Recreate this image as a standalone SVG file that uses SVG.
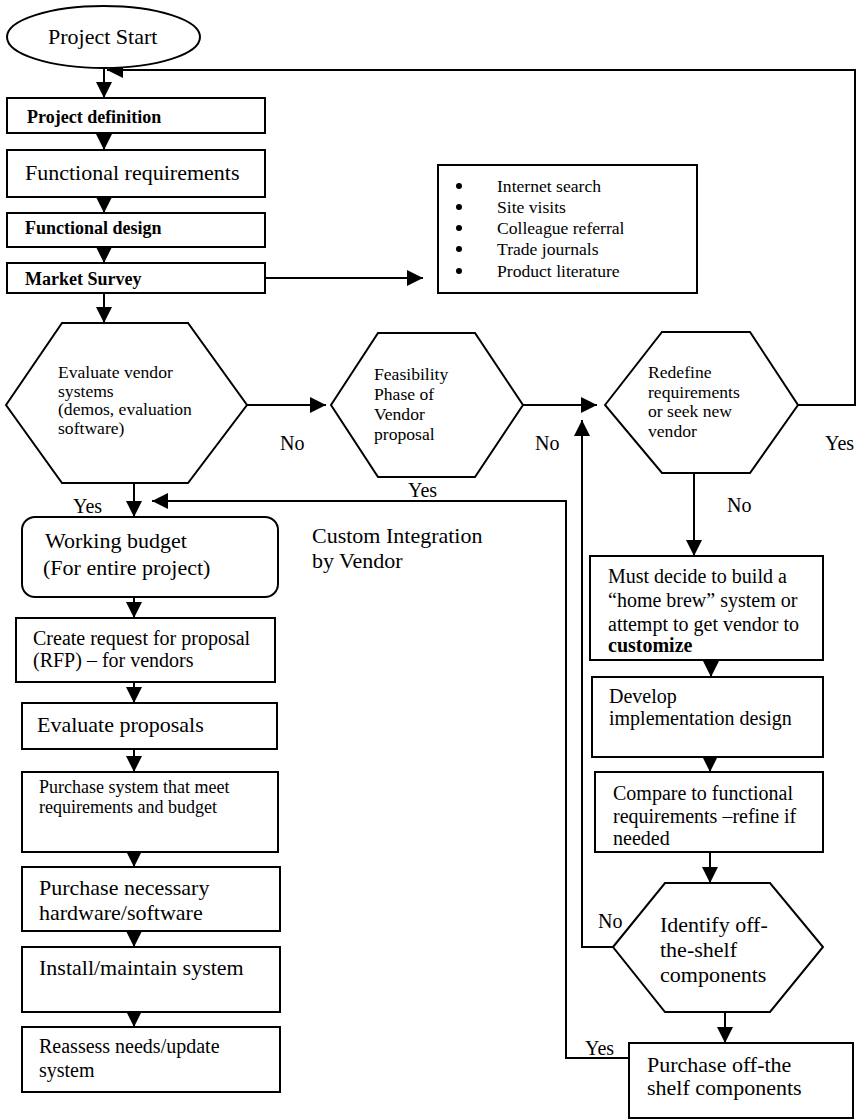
<svg xmlns="http://www.w3.org/2000/svg" width="863" height="1120" viewBox="0 0 863 1120">
<defs>
<style>
text{font-family:"Liberation Serif","Times New Roman",serif;fill:#000}
.n{fill:#fff;stroke:#000;stroke-width:2}
.c{fill:none;stroke:#000;stroke-width:2}
.b{font-weight:bold;font-size:18px}
.t22{font-size:22px}
.t20{font-size:20px}
.t18{font-size:18px}
.t17{font-size:17.6px}
.lbl{font-size:20px}
</style>
<marker id="ah" viewBox="0 0 16 16" refX="16" refY="8" markerWidth="16" markerHeight="16" markerUnits="userSpaceOnUse" orient="auto">
<path d="M0,0 L16,8 L0,16 z" fill="#000"/>
</marker>
</defs>
<rect width="863" height="1120" fill="#fff"/>

<g id="connectors">
<polyline class="c" points="798,405 855,405 855,70 107,70" marker-end="url(#ah)"/>
<line class="c" x1="104" y1="68" x2="104" y2="98" marker-end="url(#ah)"/>
<line class="c" x1="104" y1="133" x2="104" y2="150" marker-end="url(#ah)"/>
<line class="c" x1="104" y1="197" x2="104" y2="213" marker-end="url(#ah)"/>
<line class="c" x1="104" y1="247" x2="104" y2="263" marker-end="url(#ah)"/>
<line class="c" x1="104" y1="293" x2="104" y2="323" marker-end="url(#ah)"/>
<line class="c" x1="265" y1="278" x2="423" y2="278" marker-end="url(#ah)"/>
<line class="c" x1="247" y1="405" x2="326" y2="405" marker-end="url(#ah)"/>
<line class="c" x1="523" y1="405" x2="597" y2="405" marker-end="url(#ah)"/>
<line class="c" x1="134" y1="483" x2="134" y2="517" marker-end="url(#ah)"/>
<polyline class="c" points="629,1058 566,1058 566,501 152,501" marker-end="url(#ah)"/>
<polyline class="c" points="613,947 582,947 582,420" marker-end="url(#ah)"/>
<line class="c" x1="694" y1="473" x2="694" y2="556" marker-end="url(#ah)"/>
<line class="c" x1="134" y1="597" x2="134" y2="618" marker-end="url(#ah)"/>
<line class="c" x1="134" y1="682" x2="134" y2="703" marker-end="url(#ah)"/>
<line class="c" x1="134" y1="749" x2="134" y2="772" marker-end="url(#ah)"/>
<line class="c" x1="134" y1="852" x2="134" y2="867" marker-end="url(#ah)"/>
<line class="c" x1="134" y1="931" x2="134" y2="947" marker-end="url(#ah)"/>
<line class="c" x1="134" y1="1012" x2="134" y2="1027" marker-end="url(#ah)"/>
<line class="c" x1="711" y1="660" x2="711" y2="677" marker-end="url(#ah)"/>
<line class="c" x1="710" y1="757" x2="710" y2="772" marker-end="url(#ah)"/>
<line class="c" x1="710" y1="852" x2="710" y2="883" marker-end="url(#ah)"/>
<line class="c" x1="725" y1="1012" x2="725" y2="1043" marker-end="url(#ah)"/>
</g>

<g id="labels">
<text class="lbl" x="280" y="450">No</text>
<text class="lbl" x="535" y="450">No</text>
<text class="lbl" x="825" y="450">Yes</text>
<text class="lbl" x="73" y="513">Yes</text>
<text class="lbl" x="408" y="497">Yes</text>
<text class="lbl" x="727" y="512">No</text>
<text class="lbl" x="598" y="928">No</text>
<text class="lbl" x="585" y="1055">Yes</text>
<text class="t22" x="312" y="543">Custom Integration</text>
<text class="t22" x="312" y="568">by Vendor</text>
</g>

<g id="start">
<ellipse class="n" cx="103.5" cy="37" rx="96.5" ry="31"/>
<text class="t22" x="48" y="44">Project Start</text>
</g>
<g id="project-definition">
<rect class="n" x="7" y="98" width="258" height="35"/>
<text class="b" x="27" y="123">Project definition</text>
</g>
<g id="functional-requirements">
<rect class="n" x="7" y="150" width="258" height="47"/>
<text class="t22" x="25" y="180">Functional requirements</text>
</g>
<g id="functional-design">
<rect class="n" x="7" y="213" width="258" height="34"/>
<text class="b" x="25" y="234">Functional design</text>
</g>
<g id="market-survey">
<rect class="n" x="7" y="263" width="258" height="30"/>
<text class="b" x="25" y="285">Market Survey</text>
</g>
<g id="survey-methods">
<rect class="n" x="438" y="165" width="259" height="128"/>
<circle cx="459" cy="186" r="3"/>
<circle cx="459" cy="207" r="3"/>
<circle cx="459" cy="228" r="3"/>
<circle cx="459" cy="249" r="3"/>
<circle cx="459" cy="271" r="3"/>
<text class="t17" x="497" y="192">Internet search</text>
<text class="t17" x="497" y="213">Site visits</text>
<text class="t17" x="497" y="234">Colleague referral</text>
<text class="t17" x="497" y="255">Trade journals</text>
<text class="t17" x="497" y="277">Product literature</text>
</g>
<g id="evaluate-vendor">
<polygon class="n" points="6,405 62,323 188,323 247,405 188,483 62,483"/>
<text class="t17" x="58" y="378">Evaluate vendor</text>
<text class="t17" x="58" y="396.5">systems</text>
<text class="t17" x="58" y="415">(demos, evaluation</text>
<text class="t17" x="58" y="433.5">software)</text>
</g>
<g id="feasibility">
<polygon class="n" points="331,405 378,333 475,333 523,405 475,477 378,477"/>
<text class="t17" x="374" y="380">Feasibility</text>
<text class="t17" x="374" y="400">Phase of</text>
<text class="t17" x="374" y="420">Vendor</text>
<text class="t17" x="374" y="440">proposal</text>
</g>
<g id="redefine">
<polygon class="n" points="605,405 662,332 750,332 798,405 750,473 662,473"/>
<text class="t17" x="648" y="378">Redefine</text>
<text class="t17" x="648" y="397.5">requirements</text>
<text class="t17" x="648" y="417">or seek new</text>
<text class="t17" x="648" y="436.5">vendor</text>
</g>
<g id="working-budget">
<rect class="n" x="22" y="517" width="256" height="80" rx="13"/>
<text class="t22" x="45" y="548">Working budget</text>
<text class="t22" x="43" y="575">(For entire project)</text>
</g>
<g id="create-rfp">
<rect class="n" x="16" y="618" width="259" height="64"/>
<text class="t20" x="33" y="645">Create request for proposal</text>
<text class="t20" x="33" y="667">(RFP) – for vendors</text>
</g>
<g id="evaluate-proposals">
<rect class="n" x="22" y="703" width="255" height="46"/>
<text class="t22" x="37" y="732">Evaluate proposals</text>
</g>
<g id="purchase-system">
<rect class="n" x="22" y="772" width="256" height="80"/>
<text class="t18" x="39" y="793">Purchase system that meet</text>
<text class="t18" x="39" y="813">requirements and budget</text>
</g>
<g id="purchase-hardware">
<rect class="n" x="22" y="867" width="258" height="64"/>
<text class="t22" x="39" y="895">Purchase necessary</text>
<text class="t22" x="39" y="920">hardware/software</text>
</g>
<g id="install">
<rect class="n" x="22" y="947" width="258" height="65"/>
<text class="t22" x="39" y="975">Install/maintain system</text>
</g>
<g id="reassess">
<rect class="n" x="22" y="1027" width="258" height="65"/>
<text class="t20" x="39" y="1053">Reassess needs/update</text>
<text class="t20" x="39" y="1077">system</text>
</g>
<g id="must-decide">
<rect class="n" x="590" y="556" width="233" height="104"/>
<text class="t20" x="608" y="583">Must decide to build a</text>
<text class="t20" x="608" y="607">“home brew” system or</text>
<text class="t20" x="608" y="631">attempt to get vendor to</text>
<text class="t20" x="608" y="652" font-weight="bold">customize</text>
</g>
<g id="develop-design">
<rect class="n" x="592" y="677" width="231" height="80"/>
<text class="t20" x="609" y="703">Develop</text>
<text class="t20" x="609" y="725">implementation design</text>
</g>
<g id="compare">
<rect class="n" x="595" y="772" width="228" height="80"/>
<text class="t20" x="613" y="800">Compare to functional</text>
<text class="t20" x="613" y="822.5">requirements –refine if</text>
<text class="t20" x="613" y="845">needed</text>
</g>
<g id="identify-ots">
<polygon class="n" points="613,947 665,883 770,883 823,947 770,1012 665,1012"/>
<text class="t22" x="660" y="932">Identify off-</text>
<text class="t22" x="660" y="957">the-shelf</text>
<text class="t22" x="660" y="982">components</text>
</g>
<g id="purchase-ots">
<rect class="n" x="629" y="1043" width="224" height="75"/>
<text class="t22" x="647" y="1072">Purchase off-the</text>
<text class="t22" x="647" y="1095">shelf components</text>
</g>
</svg>
